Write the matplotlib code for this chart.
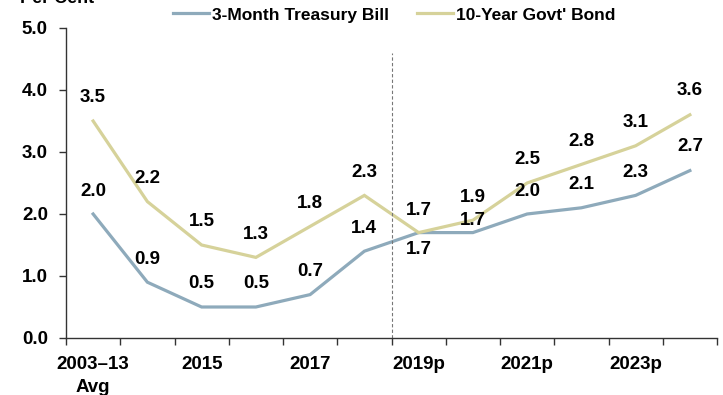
import numpy as np
import matplotlib.pyplot as plt

plt.rcParams['font.family'] = ['Liberation Sans', 'DejaVu Sans']
plt.rcParams['font.weight'] = 'bold'

years = ["2003–13\nAvg", "2014", "2015", "2016", "2017", "2018",
         "2019p", "2020p", "2021p", "2022p", "2023p", "2024p"]
tbill = [2.0, 0.9, 0.5, 0.5, 0.7, 1.4, 1.7, 1.7, 2.0, 2.1, 2.3, 2.7]
bond = [3.5, 2.2, 1.5, 1.3, 1.8, 2.3, 1.7, 1.9, 2.5, 2.8, 3.1, 3.6]

# label offsets in pixels (positive = above the point)
tbill_off = [23, 23, 23, 23, 23, 23, -17, 12, 23, 23, 23, 24]
bond_off = [23, 23, 24, 23, 23, 23, 22, 23, 23, 23, 23, 24]

blue = '#8eaabb'
khaki = '#d6d29a'

fig = plt.figure(figsize=(7.23, 3.95), dpi=100)
ax = fig.add_axes([66 / 723, 57 / 395, 651 / 723, 310 / 395])

x = np.arange(len(years))
ax.plot(x, tbill, color=blue, lw=2.3, label='3-Month Treasury Bill',
        solid_joinstyle='miter')
ax.plot(x, bond, color=khaki, lw=2.3, label="10-Year Govt' Bond",
        solid_joinstyle='miter')

for xi, v, o in zip(x, tbill, tbill_off):
    ax.annotate(f"{v:.1f}", (xi, v), xytext=(0, o), textcoords='offset pixels',
                ha='center', va='center', fontsize=13.5, fontweight='bold')
for xi, v, o in zip(x, bond, bond_off):
    ax.annotate(f"{v:.1f}", (xi, v), xytext=(0, o), textcoords='offset pixels',
                ha='center', va='center', fontsize=13.5, fontweight='bold')

# divider between actuals and projections
ax.plot([5.5, 5.5], [0, 4.6], color='#777777', lw=0.8, ls=(0, (3, 2)))

ax.set_xlim(-0.5, 11.5)
ax.set_ylim(0, 5)
ax.set_yticks(np.arange(0, 5.1, 1.0))
ax.set_yticklabels([f"{v:.1f}" for v in np.arange(0, 5.1, 1.0)],
                   fontsize=13.5, fontweight='bold')

ax.set_xticks(np.arange(-0.5, 12, 1.0))
ax.set_xticklabels([])
ax.set_xticks(x, minor=True)
ax.set_xticklabels([y if i % 2 == 0 else "" for i, y in enumerate(years)],
                   minor=True, fontsize=13.5, fontweight='bold')
ax.tick_params(axis='x', which='minor', length=0, pad=13)
ax.tick_params(axis='x', which='major', length=5, width=1, color='#333333')
ax.tick_params(axis='y', length=5, width=1, color='#333333', pad=8)
for lbl in ax.get_xticklabels(minor=True):
    lbl.set_linespacing(1.45)

for s in ['top', 'right']:
    ax.spines[s].set_visible(False)
for s in ['left', 'bottom']:
    ax.spines[s].set_color('#333333')
    ax.spines[s].set_linewidth(1)

ax.legend(loc='center', bbox_to_anchor=(394 / 723, 380 / 395),
          bbox_transform=fig.transFigure, ncol=2, frameon=False,
          handlelength=2.1, handletextpad=0.15, columnspacing=1.6,
          prop={'weight': 'bold', 'size': 12.5})

fig.text(20 / 723, 392 / 395, "Per Cent", fontsize=13, fontweight='bold',
         va='baseline', ha='left')

fig.savefig('out.png', dpi=100)
